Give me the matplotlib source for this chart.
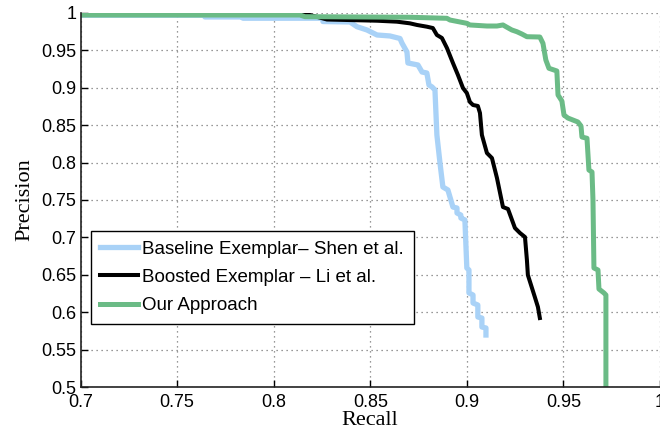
import matplotlib
matplotlib.use('Agg')
from matplotlib import pyplot as plt

# precision / recall curves
baseline_recall = [0.700, 0.7644, 0.7644, 0.7841, 0.7841, 0.8255, 0.8255, 0.8395, 0.8431, 0.8483,
                   0.8535, 0.8602, 0.8654, 0.8664, 0.8690, 0.8695, 0.8747, 0.8768, 0.8793, 0.8804,
                   0.8820, 0.8835, 0.8845, 0.8861, 0.8876, 0.8902, 0.8928, 0.8949, 0.8949, 0.8969,
                   0.8969, 0.8990, 0.9000, 0.9011, 0.9011, 0.9032, 0.9032, 0.9057, 0.9057, 0.9078,
                   0.9078, 0.9099, 0.9099]
baseline_precision = [0.997, 0.997, 0.9947, 0.9947, 0.993, 0.993, 0.9886, 0.9880, 0.9817, 0.9773,
                      0.9706, 0.9693, 0.9659, 0.9599, 0.9479, 0.9332, 0.9305, 0.9211, 0.9198, 0.9037,
                      0.9011, 0.8971, 0.8369, 0.7995, 0.7674, 0.7634, 0.7406, 0.7393, 0.7326, 0.7299,
                      0.7259, 0.7233, 0.6591, 0.6564, 0.6257, 0.6230, 0.6123, 0.6096, 0.5936, 0.5922,
                      0.5802, 0.5789, 0.5695]

boosted_recall = [0.700, 0.8136, 0.8188, 0.8276, 0.8535, 0.8638, 0.8705, 0.8742, 0.8793, 0.8824,
                  0.8845, 0.8871, 0.8897, 0.8928, 0.8954, 0.8980, 0.9000, 0.9016, 0.9032, 0.9057,
                  0.9068, 0.9078, 0.9104, 0.9130, 0.9156, 0.9187, 0.9213, 0.9249, 0.9275, 0.9301,
                  0.9311, 0.9316, 0.9352, 0.9368, 0.9378]
boosted_precision = [1.0, 1.0, 0.9973, 0.9913, 0.9897, 0.9884, 0.9862, 0.9840, 0.9817, 0.9799,
                     0.9706, 0.9666, 0.9532, 0.9332, 0.9171, 0.8997, 0.8930, 0.8810, 0.8770, 0.8757,
                     0.8663, 0.8369, 0.8128, 0.8061, 0.7794, 0.7406, 0.7380, 0.7126, 0.7059, 0.7005,
                     0.6698, 0.6497, 0.6203, 0.6070, 0.5922]

ours_recall = [0.700, 0.8136, 0.8162, 0.8705, 0.8897, 0.8913, 0.9000, 0.9016, 0.9104, 0.9156,
               0.9187, 0.9208, 0.9233, 0.9259, 0.9285, 0.9311, 0.9378, 0.9394, 0.9409, 0.9425,
               0.9466, 0.9472, 0.9492, 0.9503, 0.9523, 0.9575, 0.9591, 0.9596, 0.9622, 0.9632,
               0.9648, 0.9653, 0.9658, 0.9679, 0.9684, 0.9710, 0.9720, 0.9720]
ours_precision = [0.9973, 0.9973, 0.9951, 0.9943, 0.9929, 0.9906, 0.9862, 0.9840, 0.9826, 0.9826,
                  0.9840, 0.9809, 0.9773, 0.9750, 0.9719, 0.9683, 0.9679, 0.9595, 0.9372, 0.9261,
                  0.9225, 0.8904, 0.8824, 0.8636, 0.8596, 0.8543, 0.8489, 0.8342, 0.8325, 0.7901,
                  0.7874, 0.7500, 0.6591, 0.6564, 0.6310, 0.6257, 0.6230, 0.5]

labels = ['Baseline Exemplar\u2013 Shen et al.', 'Boosted Exemplar \u2013 Li et al.', 'Our Approach']

x_ticks = [0.7, 0.75, 0.8, 0.85, 0.9, 0.95, 1.0]
x_tick_labels = ['0.7', '0.75', '0.8', '0.85', '0.9', '0.95', '1']
y_ticks = [0.5, 0.55, 0.6, 0.65, 0.7, 0.75, 0.8, 0.85, 0.9, 0.95, 1.0]
y_tick_labels = ['0.5', '0.55', '0.6', '0.65', '0.7', '0.75', '0.8', '0.85', '0.9', '0.95', '1']


def main():
    plt.rcParams['font.family'] = ['Liberation Sans', 'DejaVu Sans']
    fig = plt.figure(figsize=(6.6, 4.34), dpi=100)
    ax = fig.add_axes([80.5 / 660, 47 / 434, 579.5 / 660, 374 / 434])

    ax.plot(baseline_recall, baseline_precision, '-', color='#a9d2f7', lw=3.8, label=labels[0])
    ax.plot(boosted_recall, boosted_precision, '-', color='black', lw=2.9, label=labels[1])
    ax.plot(ours_recall, ours_precision, '-', color='#6bbb86', lw=3.6, label=labels[2])

    ax.set_xlim(0.7, 1.0)
    ax.set_ylim(0.5, 1.0)
    ax.set_xticks(x_ticks)
    ax.set_xticklabels(x_tick_labels)
    ax.set_yticks(y_ticks)
    ax.set_yticklabels(y_tick_labels)
    ax.tick_params(direction='in', length=5, width=1, labelsize=13, pad=3, colors='black')
    ax.tick_params(axis='x', pad=5)

    ax.grid(True, linestyle=(0, (1, 3)), color='#777777', lw=0.9)
    ax.spines['top'].set_visible(False)
    ax.spines['right'].set_visible(False)
    for side in ['left', 'bottom']:
        ax.spines[side].set_linewidth(1.2)
        ax.spines[side].set_color('#222222')

    ax.set_xlabel('Recall', family='Liberation Serif', fontsize=16, labelpad=0)
    ax.set_ylabel('Precision', family='Liberation Serif', fontsize=16, labelpad=5)

    leg = ax.legend(loc='upper left', bbox_to_anchor=(0.018, 0.417), borderaxespad=0,
                    fontsize=13.5, fancybox=False, framealpha=1, edgecolor='black',
                    handlelength=2.0, handletextpad=0.25, labelspacing=0.6, borderpad=0.5)
    leg.get_frame().set_linewidth(1.0)

    fig.savefig('out.png', dpi=100)


if __name__ == "__main__":
    main()
